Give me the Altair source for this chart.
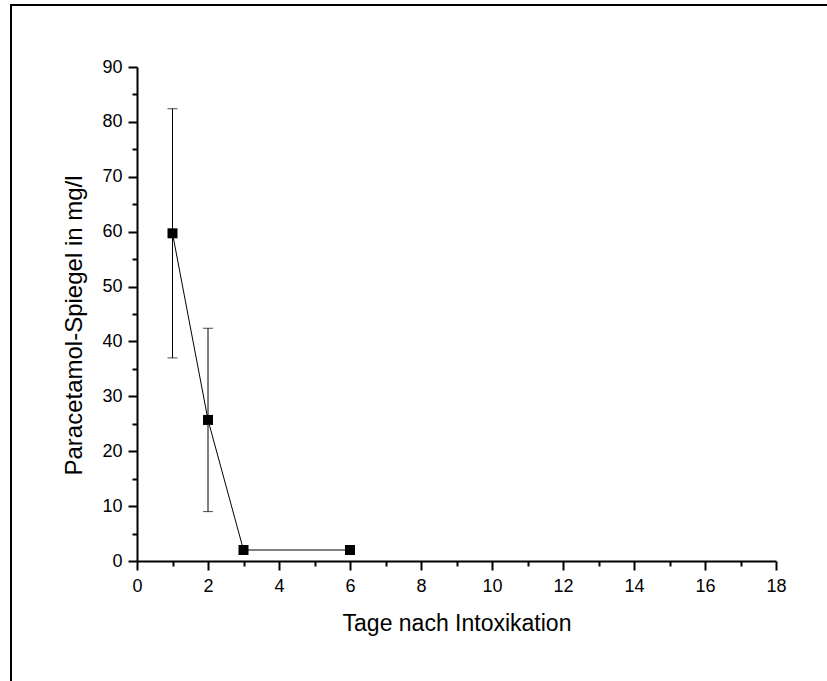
import altair as alt
import pandas as pd

# Paracetamol serum level (mean ± SD) per day after intoxication
days = [1, 2, 3, 6]
level = [59.7, 25.7, 2.0, 2.0]
sd = [22.7, 16.7, 0.0, 0.0]

x_major = [0, 2, 4, 6, 8, 10, 12, 14, 16, 18]
x_minor = [1, 3, 5, 7, 9, 11, 13, 15, 17]
y_major = [0, 10, 20, 30, 40, 50, 60, 70, 80, 90]
y_minor = [5, 15, 25, 35, 45, 55, 65, 75, 85]

df = pd.DataFrame({"day": days, "level": level, "sd": sd})
df["low"] = df["level"] - df["sd"]
df["high"] = df["level"] + df["sd"]
err = df[df["sd"] > 0]

FONT = "Liberation Sans"
W, H = 639, 494

xscale = alt.Scale(domain=[0, 18], nice=False, zero=False)
yscale = alt.Scale(domain=[0, 90], nice=False, zero=False)

common = dict(domainColor="black", tickColor="black", labelColor="black",
              titleColor="black", grid=False, tickWidth=2, domainWidth=2)

x_axis = alt.Axis(values=x_major, orient="bottom", tickSize=9, labelPadding=7,
                  labelFont=FONT, labelFontSize=18, labelFlush=False,
                  labelOverlap=False, title="Tage nach Intoxikation",
                  titleFont=FONT, titleFontSize=23, titleFontWeight="normal",
                  titleBaseline="alphabetic", titleX=W / 2, titleY=69, **common)
y_axis = alt.Axis(values=y_major, orient="left", tickSize=9, labelPadding=6,
                  labelFont=FONT, labelFontSize=18, labelFlush=False,
                  labelOverlap=False, title="Paracetamol-Spiegel in mg/l",
                  titleFont=FONT, titleFontSize=24, titleFontWeight="normal",
                  titleBaseline="alphabetic", titleAngle=270, titleAlign="center",
                  titleX=-56, titleY=258, **common)
x_minor_axis = alt.Axis(values=x_minor, orient="bottom", tickSize=5, labels=False,
                        domain=False, title=None, grid=False, tickWidth=2,
                        tickColor="black")
y_minor_axis = alt.Axis(values=y_minor, orient="left", tickSize=5, labels=False,
                        domain=False, title=None, grid=False, tickWidth=2,
                        tickColor="black")

base = alt.Chart(df)

points = base.mark_square(size=100, color="black", filled=True, opacity=1).encode(
    x=alt.X("day:Q", scale=xscale, axis=x_axis),
    y=alt.Y("level:Q", scale=yscale, axis=y_axis),
)

line = base.mark_line(color="black", strokeWidth=1).encode(
    x=alt.X("day:Q", scale=xscale, axis=x_minor_axis),
    y=alt.Y("level:Q", scale=yscale, axis=y_minor_axis),
)

bars = alt.Chart(err).mark_rule(color="black", strokeWidth=1).encode(
    x=alt.X("day:Q", scale=xscale, axis=None),
    y=alt.Y("low:Q", scale=yscale, axis=None),
    y2="high:Q",
)

caps = alt.Chart(err).transform_fold(["low", "high"], as_=["end", "value"]).mark_tick(
    orient="horizontal", size=10, thickness=1, color="black"
).encode(
    x=alt.X("day:Q", scale=xscale, axis=None),
    y=alt.Y("value:Q", scale=yscale, axis=None),
)

# page frame (top and left border lines)
frame_df = pd.DataFrame({"f": [0]})
frame_left = alt.Chart(frame_df).mark_rule(color="black", strokeWidth=2).encode(
    x=alt.value(-126), y=alt.value(-62), y2=alt.value(700)
)
frame_top = alt.Chart(frame_df).mark_rule(color="black", strokeWidth=2).encode(
    x=alt.value(-127), x2=alt.value(760), y=alt.value(-62)
)

chart = (
    alt.layer(frame_left, frame_top, bars, caps, line, points)
    .resolve_axis(x="independent", y="independent")
    .properties(
        width=W,
        height=H,
        autosize=alt.AutoSizeParams(type="none"),
        padding={"left": 137, "top": 67, "right": 51, "bottom": 120},
        background="white",
    )
    .configure_view(strokeWidth=0)
)

chart.save("out.html", embed_options={"renderer": "svg", "actions": False})
